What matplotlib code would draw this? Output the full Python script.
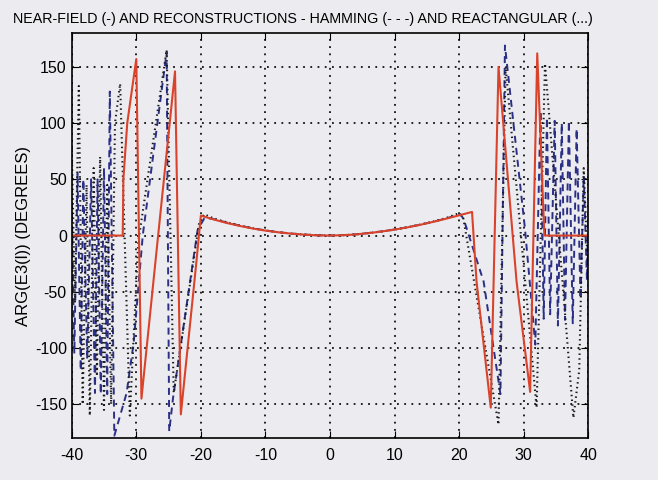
import numpy as np
import matplotlib.pyplot as plt

# Near-field phase (solid red)
nf_x = [-40.0, -32.1, -32.0, -31.4, -30.0, -29.2, -27.1, -24.0, -23.1, -20.7,
        -20.0, -18.0, -16.0, -14.0, -12.0, -10.0, -8.0, -6.0, -4.0, -2.0, 0.0,
        2.0, 4.0, 6.0, 8.0, 10.0, 12.0, 14.0, 16.0, 18.0, 20.0, 22.0,
        22.7, 24.9, 26.1, 28.9, 31.0, 32.1, 33.2, 40.0]
nf_y = [0, 0, 50, 100, 157, -145, -27, 146, -159, -24,
        17.7, 14.3, 11.2, 8.6, 6.3, 4.4, 2.9, 1.7, 0.8, 0.2, 0.0,
        0.3, 1.0, 2.2, 3.6, 5.3, 7.3, 9.6, 12.2, 15.0, 18.0, 21.0,
        -41, -153, 150, -41, -139, 162, 0, 0]

# Hamming reconstruction (blue dashed)
hm_x = [-40.0, -39.6, -39.1, -38.6, -38.2, -37.6, -37.0, -36.4, -36.0, -35.5,
        -35.0, -34.5, -34.1, -33.4, -31.5, -30.4, -29.0, -25.3, -24.9, -24.3,
        -20.5, -19.4, -18.0, -16.0, -14.0, -12.0, -10.0, -8.0, -6.0, -4.0,
        -2.0, 0.0, 2.0, 4.0, 6.0, 8.0, 10.0, 12.0, 14.0, 16.0, 18.0, 20.2,
        20.7, 23.8, 26.4, 27.1, 30.2, 31.8, 32.6, 33.1, 33.6, 34.1, 34.8,
        35.3, 35.9, 36.4, 37.0, 37.6, 38.2, 38.8, 39.3, 39.8, 40.0]
hm_y = [30, -105, 55, -120, 50, -110, 50, -140, 50, -141,
        60, -141, 128, -178, -140, -95, 0, 163, -174, -144,
        5, 16, 14.6, 11.6, 8.9, 6.5, 4.6, 3.0, 1.8, 0.9,
        0.3, 0.1, 0.4, 1.1, 2.3, 3.7, 5.4, 7.4, 9.7, 12.3, 15.3, 19.0,
        14.7, -41, -141, 169, 6, -97, 111, -74, 105, -70, 102,
        -80, 100, -75, 102, -78, 95, -56, 53, -40, 20]

# Rectangular reconstruction (black dotted)
rc_x = [-40.0, -39.5, -38.9, -38.3, -37.7, -37.2, -36.6, -36.1, -35.6, -35.0,
        -34.5, -33.9, -33.3, -32.5, -31.0, -29.7, -25.3, -24.2, -20.3, -19.5,
        -18.0, -16.0, -14.0, -12.0, -10.0, -8.0, -6.0, -4.0, -2.0, 0.0,
        2.0, 4.0, 6.0, 8.0, 10.0, 12.0, 14.0, 16.0, 18.0, 19.8, 20.6,
        26.1, 27.2, 32.0, 33.3, 37.7, 38.6, 39.3, 40.0]
rc_y = [80, -60, 133, -150, 45, -160, 60, -125, 70, -155,
        45, -150, 100, 135, -160, -6, 165, -140, 10, 19,
        15.2, 11.8, 9.0, 6.6, 4.5, 3.0, 1.8, 0.9, 0.3, 0.0,
        0.3, 1.0, 2.2, 3.6, 5.3, 7.4, 9.8, 12.5, 15.6, 19.5, 17,
        -168, 150, -153, 153, -162, -120, 60, -40]

x_ticks = [-40, -30, -20, -10, 0, 10, 20, 30, 40]
y_ticks = [-150, -100, -50, 0, 50, 100, 150]

plt.rcParams['font.family'] = ['Liberation Sans', 'DejaVu Sans']
plt.rcParams['axes.unicode_minus'] = False
bg = '#ececf0'

fig = plt.figure(figsize=(6.58, 4.8), dpi=100, facecolor=bg)
ax = fig.add_axes([0.109, 0.0875, 0.785, 0.8435], facecolor=bg)

ax.plot(hm_x, hm_y, color='#2b2f86', lw=1.4, dashes=(3.6, 2.6))
ax.plot(rc_x, rc_y, color='#1a1a1a', lw=1.5, linestyle=(0, (0.7, 1.6)))
ax.plot(nf_x, nf_y, color='#d9432b', lw=1.5)

ax.set_xlim(-40, 40)
ax.set_ylim(-180, 180)
ax.set_xticks(x_ticks)
ax.set_yticks(y_ticks)
ax.grid(True, color='#111111', linestyle=(0, (1, 3)), lw=1.3)
ax.tick_params(direction='in', top=True, right=True, length=5, labelsize=11.5)
ax.tick_params(axis='x', pad=7)
for s in ax.spines.values():
    s.set_linewidth(1.2)

ax.set_ylabel('ARG(E3(l)) (DEGREES)', fontsize=12, labelpad=3)
fig.text(0.02, 0.975, 'NEAR-FIELD (-) AND RECONSTRUCTIONS - HAMMING (- - -) AND REACTANGULAR (...)',
         fontsize=10.3, ha='left', va='top')

fig.savefig('out.png', dpi=100, facecolor=bg)
